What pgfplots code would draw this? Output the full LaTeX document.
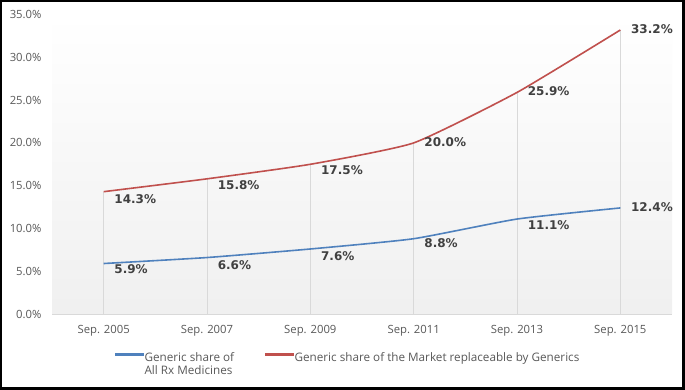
\documentclass[border=0pt]{standalone}
\usepackage{pgfplots}
\pgfplotsset{compat=1.18}
\usepackage{pgfplotstable}
\usepackage{fontspec}
\setmainfont{Open Sans}
\newfontfamily\lblfont{DejaVu Sans}
\definecolor{sblue}{HTML}{4F81BD}
\definecolor{sred}{HTML}{C0504D}
\definecolor{ticktext}{HTML}{595959}
\definecolor{lbltext}{HTML}{404040}
\definecolor{dropc}{HTML}{D9D9D9}
\pgfplotstableread{
x y dy
0 5.9 -6
1 6.6 -7.5
2 7.6 -7
3 8.8 -4.5
4 11.1 -6
5 12.4 0.5
}\blue
\pgfplotstableread{
x y dy
0 14.3 -7.5
1 15.8 -6
2 17.5 -6
3 20.0 0.5
4 25.9 1
5 33.2 1
}\red
\pgfplotsset{lbl/.style={
  nodes near coords={\pgfmathprintnumber[fixed,fixed zerofill,precision=1]{\pgfplotspointmeta}\%},
  point meta=y,
  visualization depends on={\thisrow{dy}\as\dy},
  every node near coord/.append style={font=\lblfont\bfseries\fontsize{12}{14}\selectfont,
    text=lbltext, anchor=west, inner sep=0pt, xshift=10pt, yshift=\dy}}}
\begin{document}
\begin{tikzpicture}
\path[use as bounding box] (0pt,0pt) rectangle (685pt,390pt);
\fill[black] (0pt,0pt) rectangle (685pt,390pt);
\fill[white] (2pt,3pt) rectangle (682pt,388pt);
\begin{axis}[
  at={(52pt,76pt)}, anchor=south west,
  scale only axis, width=620pt, height=299.4pt,
  xmin=-0.5, xmax=5.5, ymin=0, ymax=35,
  clip=false,
  axis background/.style={shade, top color=white, bottom color=black!6},
  axis lines*=left,
  x axis line style={draw=dropc, line width=0.8pt},
  y axis line style={draw=none},
  tick style={draw=none},
  xtick={0,1,2,3,4,5},
  xticklabels={Sep. 2005,Sep. 2007,Sep. 2009,Sep. 2011,Sep. 2013,Sep. 2015},
  ytick={0,5,...,35},
  yticklabel={\pgfmathprintnumber[fixed,fixed zerofill,precision=1]{\tick}\%},
  /pgf/number format/assume math mode=true,
  ticklabel style={font=\fontsize{11.3}{13}\selectfont, text=ticktext},
  yticklabel style={xshift=-7pt},
  xticklabel style={yshift=-8pt},
  legend columns=2,
  legend style={at={(axis description cs:0.1016,-0.128)}, anchor=north west,
    draw=none, fill=none, inner sep=0pt,
    font=\fontsize{11.7}{13}\selectfont\color{ticktext},
    nodes={inner xsep=1pt, inner ysep=0pt},
    /tikz/column 2/.style={column sep=30pt}},
  legend cell align=left,
  legend image code/.code={\fill[#1] (0pt,2.7pt) rectangle (28pt,4.4pt);},
]
\addplot[ycomb, draw=dropc, line width=0.8pt, mark=none, forget plot] table[x=x,y=y] {\red};
\addplot[sblue, line width=1.6pt, smooth, tension=0.3, mark=none, lbl, forget plot] table[x=x,y=y] {\blue};
\addplot[sred, line width=1.6pt, smooth, tension=0.3, mark=none, lbl, forget plot] table[x=x,y=y] {\red};
\addlegendimage{sblue}
\addlegendentry{\begin{tabular}[t]{@{}l@{}}Generic share of\\All Rx Medicines\end{tabular}}
\addlegendimage{sred}
\addlegendentry{Generic share of the Market replaceable by Generics}
\end{axis}
\end{tikzpicture}
\end{document}
